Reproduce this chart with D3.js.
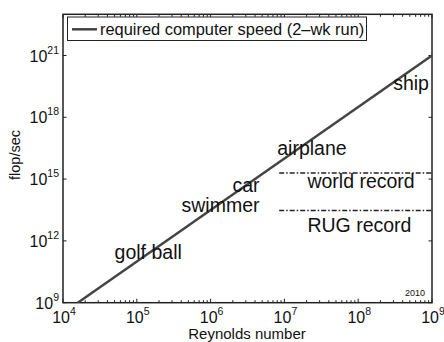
<!DOCTYPE html>
<html><head><meta charset="utf-8">
<script src="https://cdn.jsdelivr.net/npm/d3@7"></script>
<style>
html,body{margin:0;padding:0;background:#fff;}
text{font-family:"Liberation Sans",Arial,Helvetica,sans-serif;fill:#111;}
</style></head>
<body>
<svg id="c" width="444" height="342"></svg>
<script>
// ---- data ----
const reynolds = [1.585e4, 1e9];           // required speed line endpoints (Re)
const flops = [1e9, 1e21];                  // required speed line (flop/sec)
const recordNames = ["world record", "RUG record"];
const recordFlops = [2e15, 3e13];
const recordStartRe = 8.5e6;
const recordEndRe = 1e9;
const annotNames = ["ship", "airplane", "car", "swimmer", "golf ball", "world record", "RUG record"];
const annotRe = [9.1e8, 8.0e6, 4.6e6, 4.6e6, 5.0e4, 2.05e7, 2.05e7];
const annotFlop = [2.1e19, 1.5e16, 2.45e14, 2.5e13, 1.3e11, 3.7e14, 2.75e12];
const annotAnchor = ["end", "start", "end", "end", "start", "start", "start"];
const xTickExps = [4, 5, 6, 7, 8, 9];
const yTickExps = [9, 12, 15, 18, 21];
const legendLabel = "required computer speed (2\u2013wk run)";
const xLabel = "Reynolds number";
const yLabel = "flop/sec";
const yearNote = "2010";

// ---- layout ----
const L = 63, R = 432, T = 14.3, B = 302.7;
const svg = d3.select("#c");
const x = d3.scaleLog().domain([1e4, 1e9]).range([L, R]);
const y = d3.scaleLog().domain([1e9, 1e23]).range([B, T]);
const axisColor = "#222";

// minor ticks on x (bottom and top)
const minorX = [];
for (let e = 4; e < 9; e++) for (let m = 2; m <= 9; m++) minorX.push(m * Math.pow(10, e));
const g = svg.append("g");
g.selectAll(".mxb").data(minorX).join("line")
  .attr("x1", d => x(d)).attr("x2", d => x(d)).attr("y1", B).attr("y2", B - 2.5)
  .attr("stroke", axisColor).attr("stroke-width", 1);
g.selectAll(".mxt").data(minorX).join("line")
  .attr("x1", d => x(d)).attr("x2", d => x(d)).attr("y1", T).attr("y2", T + 2.5)
  .attr("stroke", axisColor).attr("stroke-width", 1);
g.selectAll(".Mxb").data(xTickExps).join("line")
  .attr("x1", d => x(Math.pow(10, d))).attr("x2", d => x(Math.pow(10, d))).attr("y1", B).attr("y2", B - 4)
  .attr("stroke", axisColor).attr("stroke-width", 1);
g.selectAll(".Mxt").data(xTickExps).join("line")
  .attr("x1", d => x(Math.pow(10, d))).attr("x2", d => x(Math.pow(10, d))).attr("y1", T).attr("y2", T + 4)
  .attr("stroke", axisColor).attr("stroke-width", 1);
// y ticks left and right
g.selectAll(".Myl").data(yTickExps).join("line")
  .attr("y1", d => y(Math.pow(10, d))).attr("y2", d => y(Math.pow(10, d))).attr("x1", L).attr("x2", L + 3.5)
  .attr("stroke", axisColor).attr("stroke-width", 1);
g.selectAll(".Myr").data(yTickExps).join("line")
  .attr("y1", d => y(Math.pow(10, d))).attr("y2", d => y(Math.pow(10, d))).attr("x1", R).attr("x2", R - 3.5)
  .attr("stroke", axisColor).attr("stroke-width", 1);

// frame
svg.append("rect").attr("x", L).attr("y", T).attr("width", R - L).attr("height", B - T)
  .attr("fill", "none").attr("stroke", axisColor).attr("stroke-width", 1.5);

// tick labels
const xt = svg.selectAll(".xtl").data(xTickExps).join("text")
  .attr("x", d => x(Math.pow(10, d)) + 1).attr("y", 323).attr("text-anchor", "middle")
  .style("font-size", "16px");
xt.append("tspan").text("10");
xt.append("tspan").attr("dy", -8).style("font-size", "10.5px").text(d => d);

const yt = svg.selectAll(".ytl").data(yTickExps).join("text")
  .attr("x", 59).attr("y", d => y(Math.pow(10, d)) + 6).attr("text-anchor", "end")
  .style("font-size", "16px");
yt.append("tspan").text("10");
yt.append("tspan").attr("dy", -8).style("font-size", "10.5px").text(d => d);

// axis labels
svg.append("text").attr("x", 247).attr("y", 338.5).attr("text-anchor", "middle")
  .style("font-size", "15px").text(xLabel);
svg.append("text").attr("transform", "translate(20,155) rotate(-90)").attr("text-anchor", "middle")
  .style("font-size", "14.5px").text(yLabel);

// clip
svg.append("clipPath").attr("id", "clip").append("rect")
  .attr("x", L).attr("y", T).attr("width", R - L).attr("height", B - T);

// main line
const pts = reynolds.map((r, i) => [r, flops[i]]);
svg.append("path").attr("clip-path", "url(#clip)")
  .attr("d", d3.line().x(d => x(d[0])).y(d => y(d[1]))(pts))
  .attr("fill", "none").attr("stroke", "#444").attr("stroke-width", 2.5);

// record lines
svg.selectAll(".rec").data(recordFlops).join("line")
  .attr("x1", x(recordStartRe)).attr("x2", x(recordEndRe))
  .attr("y1", d => y(d)).attr("y2", d => y(d))
  .attr("stroke", "#222").attr("stroke-width", 1.5).attr("stroke-dasharray", "5,2,1.5,2");

// annotations
svg.selectAll(".ann").data(annotNames).join("text")
  .attr("x", (d, i) => x(annotRe[i])).attr("y", (d, i) => y(annotFlop[i]))
  .attr("text-anchor", (d, i) => annotAnchor[i])
  .style("font-size", "19.5px").text(d => d);

// year note
svg.append("text").attr("x", 425).attr("y", 296).attr("text-anchor", "end")
  .style("font-size", "9px").text(yearNote);

// legend
const lg = svg.append("g");
lg.append("rect").attr("x", 67.5).attr("y", 17).attr("width", 299).attr("height", 23.5)
  .attr("fill", "#fff").attr("stroke", "#222").attr("stroke-width", 1);
lg.append("line").attr("x1", 72).attr("x2", 97).attr("y1", 29.3).attr("y2", 29.3)
  .attr("stroke", "#444").attr("stroke-width", 2.5);
lg.append("text").attr("x", 100).attr("y", 35).style("font-size", "16.4px").text(legendLabel);
</script>
</body></html>
